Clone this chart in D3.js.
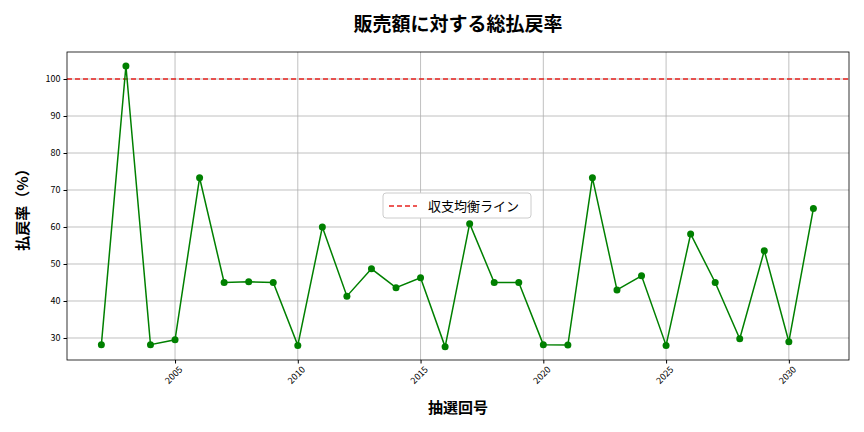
<!DOCTYPE html>
<html><head><meta charset="utf-8">
<script src="https://cdn.jsdelivr.net/npm/d3@7"></script>
<style>body{margin:0;background:#fff}text{font-family:"Noto Sans CJK JP","DejaVu Sans",sans-serif}</style>
</head><body><svg id="c" width="864" height="432"></svg>
<script>
const years=[2002,2003,2004,2005,2006,2007,2008,2009,2010,2011,2012,2013,2014,2015,2016,2017,2018,2019,2020,2021,2022,2023,2024,2025,2026,2027,2028,2029,2030,2031];
const rates=[28.2,103.5,28.2,29.5,73.3,45,45.2,45,28,60,41.3,48.7,43.6,46.3,27.6,60.9,45,45,28.2,28.1,73.3,43,46.8,28,58.1,45,29.8,53.6,29,65];
const xTicks=[2005,2010,2015,2020,2025,2030];
const yTicks=[30,40,50,60,70,80,90,100];
const svg=d3.select("#c");
const L=67,R=849,T=52,B=360;
const x=d3.scaleLinear().domain([2000.6,2032.45]).range([L,R]);
const y=d3.scaleLinear().domain([24.05,107.3]).range([B,T]);
const g=svg.append("g");
g.selectAll(".gx").data(xTicks).enter().append("line").attr("x1",d=>x(d)).attr("x2",d=>x(d)).attr("y1",T).attr("y2",B).attr("stroke","#b0b0b0").attr("stroke-width",0.8);
g.selectAll(".gy").data(yTicks).enter().append("line").attr("y1",d=>y(d)).attr("y2",d=>y(d)).attr("x1",L).attr("x2",R).attr("stroke","#b0b0b0").attr("stroke-width",0.8);
svg.append("line").attr("x1",L).attr("x2",R).attr("y1",y(100)).attr("y2",y(100)).attr("stroke","#e8231f").attr("stroke-width",1.5).attr("stroke-dasharray","5,3");
svg.append("path").datum(years.map((d,i)=>[d,rates[i]])).attr("d",d3.line().x(d=>x(d[0])).y(d=>y(d[1]))).attr("fill","none").attr("stroke","green").attr("stroke-width",1.5);
svg.selectAll(".pt").data(years).enter().append("circle").attr("cx",d=>x(d)).attr("cy",(d,i)=>y(rates[i])).attr("r",3.5).attr("fill","green");
svg.append("rect").attr("x",L).attr("y",T).attr("width",R-L).attr("height",B-T).attr("fill","none").attr("stroke","#000").attr("stroke-width",0.8);
const xa=svg.append("g").attr("transform",`translate(0,${B})`).call(d3.axisBottom(x).tickValues(xTicks).tickFormat(d3.format("d")).tickSize(3.5));
xa.select(".domain").remove();
xa.selectAll("text").attr("font-size",9).attr("fill","#000").attr("text-anchor","end").attr("transform","rotate(-45)").attr("dx","-2").attr("dy","6");
const ya=svg.append("g").attr("transform",`translate(${L},0)`).call(d3.axisLeft(y).tickValues(yTicks).tickSize(3.5));
ya.select(".domain").remove();
ya.selectAll("text").attr("font-size",9).attr("fill","#000");
svg.append("text").attr("x",458).attr("y",31).attr("text-anchor","middle").attr("font-size",19).attr("font-weight","bold").text("販売額に対する総払戻率");
svg.append("text").attr("x",458).attr("y",413).attr("text-anchor","middle").attr("font-size",15).attr("font-weight","bold").text("抽選回号");
svg.append("text").attr("transform","translate(28,206) rotate(-90)").attr("text-anchor","middle").attr("font-size",15).attr("font-weight","bold").text("払戻率（%）");
const lg=svg.append("g").attr("transform","translate(383,193)");
lg.append("rect").attr("width",148).attr("height",25).attr("rx",3).attr("fill","#fff").attr("stroke","#ccc");
lg.append("line").attr("x1",6).attr("x2",34).attr("y1",13).attr("y2",13).attr("stroke","#e8231f").attr("stroke-width",1.5).attr("stroke-dasharray","5,3");
lg.append("text").attr("x",45).attr("y",18).attr("font-size",13).text("収支均衡ライン");
</script></body></html>
